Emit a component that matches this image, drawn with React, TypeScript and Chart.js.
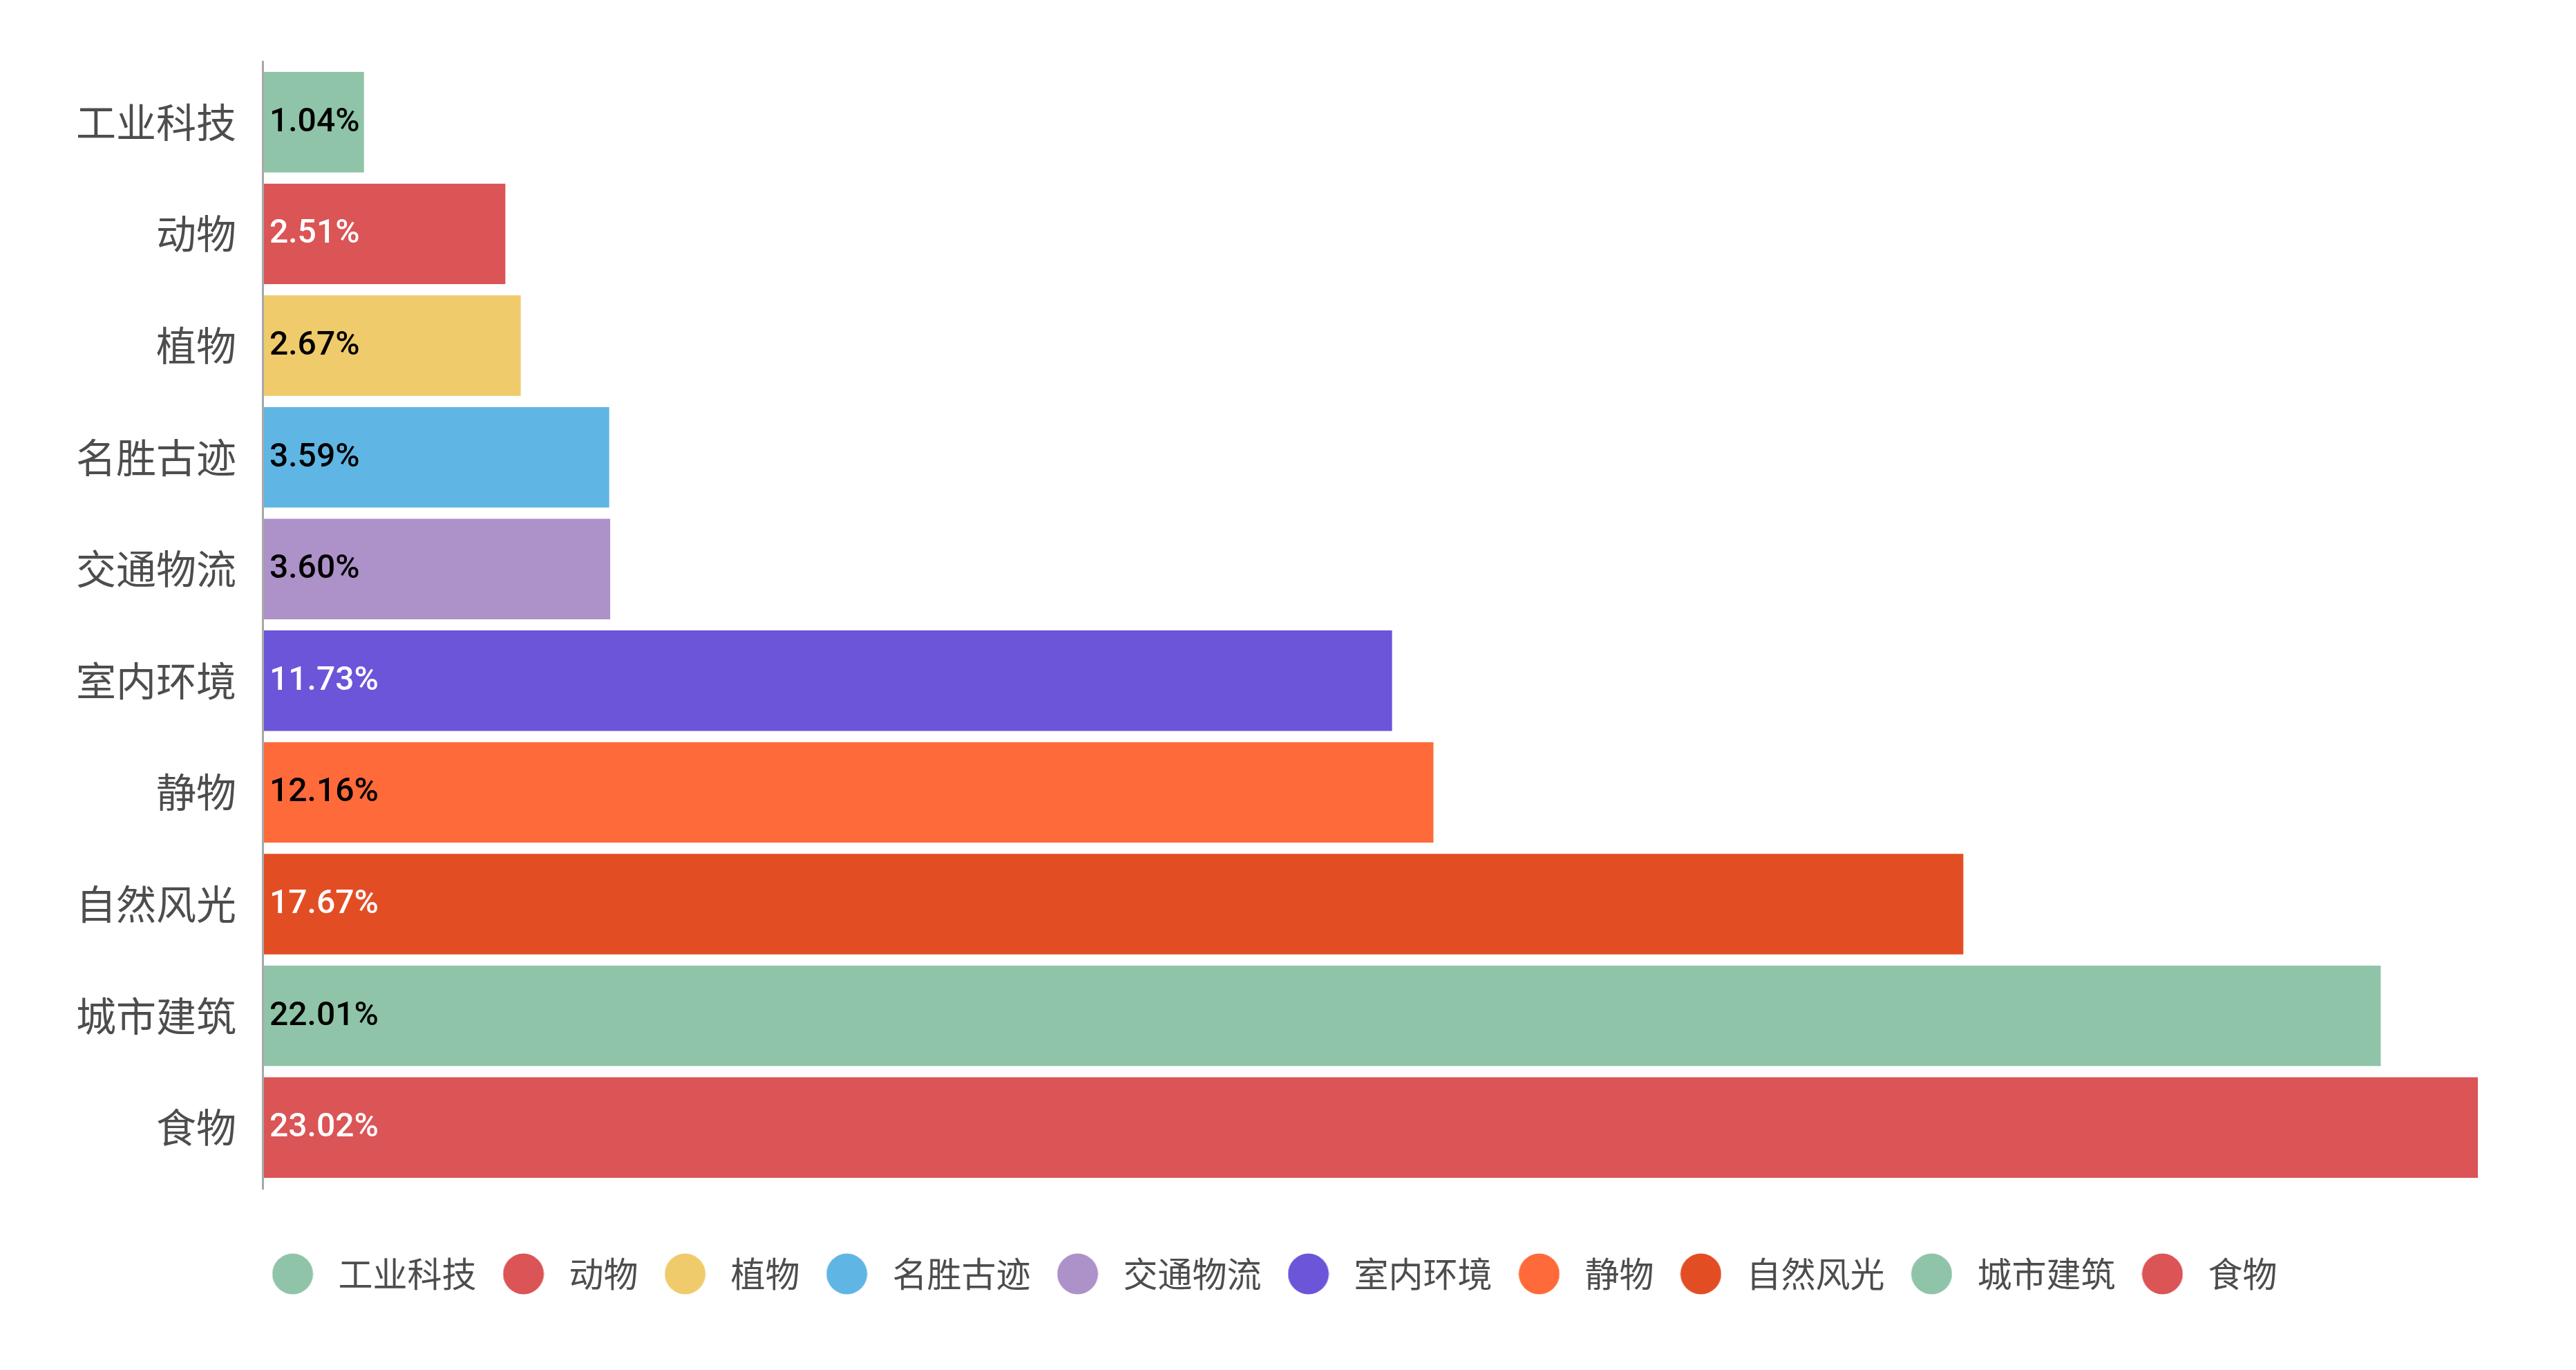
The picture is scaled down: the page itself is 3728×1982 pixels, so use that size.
import { useEffect, useRef } from 'react';
import { Chart, registerables, type ChartConfiguration, type Plugin } from 'chart.js';

Chart.register(...registerables);

const categories = ['工业科技', '动物', '植物', '名胜古迹', '交通物流', '室内环境', '静物', '自然风光', '城市建筑', '食物'];
const shares = [1.04, 2.51, 2.67, 3.59, 3.6, 11.73, 12.16, 17.67, 22.01, 23.02];

const barColors = ['#8fc4a8', '#db5456', '#efcb6b', '#5fb6e4', '#ac92c8', '#6c55d9', '#fe6a3a', '#e34d24', '#8fc4a8', '#db5456'];
const valueTextColors = ['#000', '#fff', '#000', '#000', '#000', '#fff', '#000', '#fff', '#000', '#fff'];

const CJK = '"Noto Sans CJK SC", "Noto Sans", sans-serif';
const textGray = '#4d4d4d';

// round legend marker, drawn as an image so the box can be wider than the dot
function dotImage(color: string) {
  const c = document.createElement('canvas');
  c.width = 60;
  c.height = 60;
  const g = c.getContext('2d')!;
  g.fillStyle = color;
  g.beginPath();
  g.arc(30, 30, 29.5, 0, Math.PI * 2);
  g.fill();
  return c;
}

const valueLabels: Plugin<'bar'> = {
  id: 'valueLabels',
  afterDatasetsDraw(chart) {
    const { ctx } = chart;
    const meta = chart.getDatasetMeta(0);
    ctx.save();
    ctx.font = '500 48px Roboto, sans-serif';
    ctx.textAlign = 'left';
    ctx.textBaseline = 'middle';
    meta.data.forEach((bar, i) => {
      const { base, y } = bar.getProps(['base', 'y'], true) as { base: number; y: number };
      ctx.fillStyle = valueTextColors[i];
      ctx.fillText(shares[i].toFixed(2) + '%', base + 8, y + 1);
    });
    ctx.restore();
  }
};

const axisLine: Plugin<'bar'> = {
  id: 'axisLine',
  beforeDatasetsDraw(chart) {
    const { ctx, chartArea } = chart;
    ctx.save();
    ctx.strokeStyle = '#a8a8a8';
    ctx.lineWidth = 3;
    ctx.beginPath();
    ctx.moveTo(chartArea.left - 1.5, chartArea.top - 8);
    ctx.lineTo(chartArea.left - 1.5, chartArea.bottom + 9);
    ctx.stroke();
    ctx.restore();
  }
};

export default function App() {
  const chartRef = useRef<HTMLCanvasElement>(null);
  const chartInstanceRef = useRef<Chart | null>(null);

  useEffect(() => {
    const canvas = chartRef.current;
    if (!canvas) {
      return;
    }
    const dots = barColors.map(dotImage);

    const config: ChartConfiguration<'bar', number[], string> = {
      type: 'bar',
      data: {
        labels: categories,
        datasets: [
          {
            label: '占比',
            data: shares,
            backgroundColor: barColors,
            borderWidth: 0,
            barPercentage: 0.9,
            categoryPercentage: 1
          }
        ]
      },
      options: {
        indexAxis: 'y',
        animation: false,
        responsive: true,
        maintainAspectRatio: false,
        layout: {
          padding: { top: 96, right: 142, bottom: 104, left: 92 }
        },
        scales: {
          x: {
            min: 0,
            max: Math.max(...shares),
            grid: { display: false, drawTicks: false },
            border: { display: false },
            ticks: { display: false },
            afterFit: scale => {
              scale.height = 79;
            }
          },
          y: {
            grid: { display: false, drawTicks: false },
            border: { display: false },
            ticks: {
              padding: 40,
              color: textGray,
              font: { family: CJK, size: 58 }
            },
            afterFit: scale => {
              scale.width = 290;
            }
          }
        },
        plugins: {
          legend: {
            position: 'bottom',
            labels: {
              usePointStyle: true,
              pointStyleWidth: 82,
              boxHeight: 50,
              padding: 27,
              color: textGray,
              font: { family: CJK, size: 50 },
              generateLabels: () =>
                categories.map((text, i) => ({
                  text,
                  fillStyle: barColors[i],
                  strokeStyle: barColors[i],
                  fontColor: textGray,
                  lineWidth: 0,
                  pointStyle: dots[i],
                  hidden: false,
                  index: i,
                  datasetIndex: 0
                }))
            }
          },
          tooltip: { enabled: false }
        }
      },
      plugins: [axisLine, valueLabels]
    };

    chartInstanceRef.current = new Chart(canvas, config);

    return () => {
      chartInstanceRef.current?.destroy();
    };
  }, []);

  return (
    <div style={{ position: 'fixed', inset: 0, background: '#fff' }}>
      <canvas ref={chartRef} />
    </div>
  );
}
